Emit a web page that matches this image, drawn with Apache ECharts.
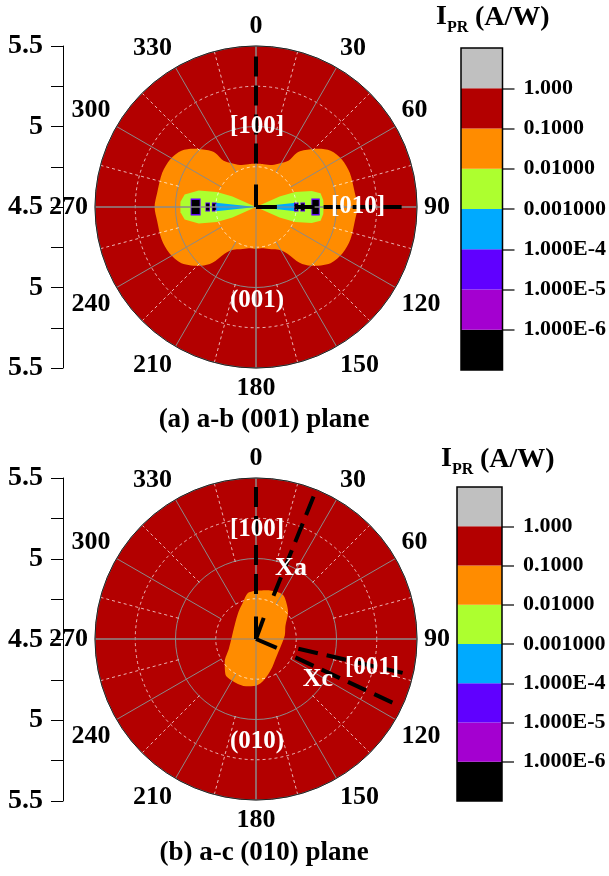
<!DOCTYPE html>
<html>
<head>
<meta charset="utf-8">
<script src="https://cdn.jsdelivr.net/npm/echarts@6/dist/echarts.min.js"></script>
<style>
  html, body { margin: 0; padding: 0; background: #fff; }
  #chart { width: 609px; height: 876px; }
</style>
</head>
<body>
<div id="chart"></div>
<script>
// radial scale of both polar plots (drawn as a straight axis on the left)
const radialTickValues = [-1, -0.5, 0, 0.5, 1];
const radialTickLabels = ["5.5", "5", "4.5", "5", "5.5"];

// colour scale of I_PR (A/W): one band per decade, lowest first
const bandTickValues = [1, 2, 3, 4, 5, 6, 7];
const bandLabels = ["1.000E-6", "1.000E-5", "1.000E-4", "0.001000", "0.01000", "0.1000", "1.000"];
const bandSpans = [1, 1, 1, 1, 1, 1, 1, 1];
const bandColors = ["#000000", "#a400d0", "#6000ff", "#00aaff", "#adff2f", "#ff8c00", "#b30000", "#c0c0c0"];

// 0.1-1 band fills the whole disc in both planes
const discAngle = [0, 15, 30, 45, 60, 75, 90, 105, 120, 135, 150, 165, 180, 195, 210, 225, 240, 255, 270, 285, 300, 315, 330, 345, 360];
const discR = [5.5, 5.5, 5.5, 5.5, 5.5, 5.5, 5.5, 5.5, 5.5, 5.5, 5.5, 5.5, 5.5, 5.5, 5.5, 5.5, 5.5, 5.5, 5.5, 5.5, 5.5, 5.5, 5.5, 5.5, 5.5];

// (a) a-b (001) plane: band boundaries, radius vs angle (deg)
const aOrangeAngle = [0, 10, 21, 29, 35, 37, 40, 47, 53, 61, 70, 82, 90, 98, 109, 118, 127, 137, 142, 146, 152, 160, 170, 180, 190, 200, 208, 214, 218, 223, 233, 242, 251, 262, 270, 278, 290, 299, 307, 313, 320, 323, 325, 331, 339, 350, 360];
const aOrangeR = [4.77, 4.77, 4.78, 4.81, 4.85, 4.92, 4.96, 5.03, 5.08, 5.11, 5.12, 5.12, 5.13, 5.12, 5.12, 5.11, 5.08, 5.00, 4.94, 4.85, 4.80, 4.78, 4.76, 4.76, 4.76, 4.78, 4.80, 4.85, 4.94, 5.00, 5.08, 5.11, 5.12, 5.12, 5.13, 5.12, 5.12, 5.11, 5.08, 5.03, 4.96, 4.92, 4.85, 4.81, 4.78, 4.77, 4.77];
const aGreenRightAngle = [64, 66, 69, 74, 78, 84, 90, 96, 102, 106, 111, 114, 116];
const aGreenRightR = [4.5, 4.66, 4.76, 4.86, 4.91, 4.92, 4.92, 4.92, 4.91, 4.86, 4.76, 4.66, 4.5];
const aGreenLeftAngle = [244, 246, 249, 254, 260, 266, 270, 274, 280, 286, 291, 294, 296];
const aGreenLeftR = [4.5, 4.66, 4.76, 4.87, 4.95, 4.97, 4.97, 4.97, 4.95, 4.87, 4.76, 4.66, 4.5];
const aBlueRightAngle = [83, 84, 87, 90, 93, 96, 97];
const aBlueRightR = [4.5, 4.75, 4.76, 4.77, 4.76, 4.75, 4.5];
const aBlueLeftAngle = [263, 264, 267, 270, 273, 276, 277];
const aBlueLeftR = [4.5, 4.75, 4.76, 4.77, 4.76, 4.75, 4.5];
// lowest bands: radial extent of the dark spots
const aCoreAngle = [90, 270];
const aCoreFrom = [4.85, 4.85];
const aCoreTo = [4.89, 4.90];
const aSpeckAngle = [90, 90, 270, 270];
const aSpeckFrom = [4.74, 4.78, 4.75, 4.79];
const aSpeckTo = [4.76, 4.80, 4.77, 4.81];
// crystal axes
const aSolidAngle = [0, 90];
const aSolidTo = [4.64, 4.63];
const aDashAngle = [0, 90];
const aDashFrom = [4.77, 4.74];
const aDashTo = [5.46, 5.46];

// (b) a-c (010) plane
const bOrangeAngle = [0, 12, 23, 32, 41, 50, 66, 83, 108, 133, 153, 169, 180, 192, 205, 221, 234, 250, 278, 305, 327, 340, 350, 360];
const bOrangeR = [4.80, 4.81, 4.82, 4.82, 4.79, 4.76, 4.70, 4.68, 4.66, 4.67, 4.71, 4.76, 4.79, 4.80, 4.80, 4.79, 4.74, 4.68, 4.65, 4.66, 4.70, 4.74, 4.79, 4.80];
const bSolidAngle = [0, 20, 113];
const bSolidTo = [4.64, 4.64, 4.64];
const bDashAngle = [0, 22, 103, 115];
const bDashFrom = [4.78, 4.79, 4.77, 4.77];
const bDashTo = [5.46, 5.46, 5.45, 5.46];

const FONT = "'Liberation Serif', 'Times New Roman', serif";
const GRID_GRAY = "#8a8a8a";
const GRID_DASH = "rgba(255,255,255,0.7)";
const centers = [[256, 207], [256, 639]];
const R = 161;

function pairs(rs, angles) {
  return rs.map((r, i) => [r, angles[i]]);
}

function band(polarIndex, rs, angles, color, smooth) {
  return {
    type: "line", coordinateSystem: "polar", polarIndex,
    data: pairs(rs, angles), smooth, symbol: "none",
    lineStyle: { width: 0 }, areaStyle: { color, opacity: 1 },
    z: 2, silent: true,
  };
}

function ray(polarIndex, angle, from, to, width, color, dash, z) {
  return {
    type: "line", coordinateSystem: "polar", polarIndex,
    data: [[from, angle], [to, angle]], symbol: "none",
    lineStyle: { color, width, type: dash || "solid", cap: "butt" },
    z: z || 6, silent: true,
  };
}

function text(str, x, y, size, color, align) {
  return {
    type: "text", x, y, z: 20, silent: true,
    style: {
      text: str, fill: color, font: "bold " + size + "px " + FONT,
      textAlign: align || "center", textVerticalAlign: "middle",
      align: align || "center", verticalAlign: "middle",
    },
  };
}

const polar = [];
const angleAxis = [];
const radiusAxis = [];
centers.forEach((c, p) => {
  const b = p * 3;
  polar.push({ center: c, radius: [0, R] }, { center: c, radius: [40, R] }, { center: c, radius: [80, R] });
  angleAxis.push(
    {
      polarIndex: b, type: "value", min: 0, max: 360, interval: 90, startAngle: 90, z: 5,
      axisLine: { lineStyle: { color: "#222", width: 1 } },
      axisTick: { show: false }, axisLabel: { show: false },
      splitLine: { show: true, lineStyle: { color: GRID_GRAY, width: 1 } },
    },
    {
      polarIndex: b + 1, type: "value", min: 0, max: 360, interval: 30, startAngle: 90, z: 4,
      axisLine: { show: false }, axisTick: { show: false },
      axisLabel: { margin: 7, color: "#000", fontSize: 26, fontWeight: "bold", fontFamily: FONT },
      splitLine: { show: true, lineStyle: { color: GRID_GRAY, width: 1 } },
    },
    {
      polarIndex: b + 2, type: "value", min: 0, max: 360, interval: 30, startAngle: 75, z: 4,
      axisLine: { show: false }, axisTick: { show: false }, axisLabel: { show: false },
      splitLine: { show: true, lineStyle: { color: GRID_DASH, width: 1, type: [3, 3] } },
    }
  );
  radiusAxis.push(
    {
      polarIndex: b, type: "value", min: 4.5, max: 5.5, interval: 0.5, z: 4,
      axisLine: { show: false }, axisTick: { show: false }, axisLabel: { show: false },
      splitLine: { show: true, lineStyle: { color: GRID_GRAY, width: 1 } },
      minorTick: { show: false, splitNumber: 2 },
      minorSplitLine: { show: true, lineStyle: { color: GRID_DASH, width: 1, type: [3, 3] } },
    },
    { polarIndex: b + 1, type: "value", min: 0, max: 1, show: false },
    { polarIndex: b + 2, type: "value", min: 0, max: 1, show: false }
  );
});

const series = [];

// panel (a)
series.push(band(0, discR, discAngle, bandColors[6], 0.5));
series.push(band(0, aOrangeR, aOrangeAngle, bandColors[5], 0.3));
series.push(band(0, aGreenRightR, aGreenRightAngle, bandColors[4], false));
series.push(band(0, aGreenLeftR, aGreenLeftAngle, bandColors[4], false));
series.push(band(0, aBlueRightR, aBlueRightAngle, bandColors[3], false));
series.push(band(0, aBlueLeftR, aBlueLeftAngle, bandColors[3], false));
aCoreAngle.forEach((a, i) => {
  series.push(ray(0, a, aCoreFrom[i] - 0.006, aCoreTo[i] + 0.006, 17, bandColors[2], null, 3));
  series.push(ray(0, a, aCoreFrom[i], aCoreTo[i], 14, bandColors[0], null, 3));
});
aSpeckAngle.forEach((a, i) => {
  series.push(ray(0, a, aSpeckFrom[i] - 0.004, aSpeckTo[i] + 0.004, 9, bandColors[2], null, 3));
  series.push(ray(0, a, aSpeckFrom[i], aSpeckTo[i], 7, bandColors[0], null, 3));
});
aSolidAngle.forEach((a, i) => series.push(ray(0, a, 4.5, aSolidTo[i], 4, "#000")));
aDashAngle.forEach((a, i) => series.push(ray(0, a, aDashFrom[i], aDashTo[i], 4, "#000", [20, 9])));

// panel (b)
series.push(band(3, discR, discAngle, bandColors[6], 0.5));
series.push(band(3, bOrangeR, bOrangeAngle, bandColors[5], 0.3));
bSolidAngle.forEach((a, i) => series.push(ray(3, a, 4.5, bSolidTo[i], 4, "#000")));
bDashAngle.forEach((a, i) => series.push(ray(3, a, bDashFrom[i], bDashTo[i], 4, "#000", [20, 9])));

// colour bars
[2, 3].forEach((g) => {
  bandSpans.forEach((v, i) => {
    series.push({
      type: "bar", xAxisIndex: g, yAxisIndex: g, stack: "cb" + g,
      data: [v], barWidth: "100%", itemStyle: { color: bandColors[i] }, silent: true,
    });
  });
});

function radialAxis(gridIndex) {
  return {
    gridIndex, type: "value", min: -1, max: 1, interval: 0.5, position: "left",
    axisLine: { show: true, onZero: false, lineStyle: { color: "#000", width: 1 } },
    axisTick: { show: true, length: 12, lineStyle: { color: "#000" } },
    minorTick: { show: true, splitNumber: 2, length: 12, lineStyle: { color: "#000" } },
    axisLabel: {
      margin: 20, color: "#000", fontSize: 28, fontWeight: "bold", fontFamily: FONT,
      formatter: (v) => {
        const i = radialTickValues.findIndex((t) => Math.abs(t - v) < 1e-6);
        return i < 0 ? "" : radialTickLabels[i];
      },
    },
    splitLine: { show: false },
  };
}

function barAxis(gridIndex) {
  return {
    gridIndex, type: "value", min: 0, max: 8, interval: 1, position: "right",
    axisLine: { show: false },
    axisTick: { show: true, customValues: bandTickValues, length: 12, lineStyle: { color: "#333", width: 1.5 } },
    axisLabel: {
      customValues: bandTickValues, margin: 21, color: "#000", fontSize: 22, fontWeight: "bold", fontFamily: FONT,
      formatter: (v) => bandLabels[Math.round(v) - 1] || "",
    },
    splitLine: { show: false },
  };
}

const chart = echarts.init(document.getElementById("chart"));
chart.setOption({
  backgroundColor: "#fff",
  animation: false,
  polar,
  angleAxis,
  radiusAxis,
  grid: [
    { left: 63, top: 46, width: 1, height: 322 },
    { left: 63, top: 478, width: 1, height: 323 },
    { left: 461, top: 48, width: 44, height: 322, show: true, borderColor: "#000", borderWidth: 1.5, z: 10 },
    { left: 457, top: 487, width: 45, height: 314, show: true, borderColor: "#000", borderWidth: 1.5, z: 10 },
  ],
  xAxis: [
    { gridIndex: 0, type: "value", min: 0, max: 1, show: false },
    { gridIndex: 1, type: "value", min: 0, max: 1, show: false },
    { gridIndex: 2, type: "category", data: ["I"], show: false },
    { gridIndex: 3, type: "category", data: ["I"], show: false },
  ],
  yAxis: [radialAxis(0), radialAxis(1), barAxis(2), barAxis(3)],
  series,
  graphic: [
    text("(a) a-b (001) plane", 264, 420, 27, "#000"),
    text("(b) a-c (010) plane", 264, 853, 27, "#000"),
    text("I", 436, 17, 28, "#000", "left"),
    text("PR", 447, 28, 16, "#000", "left"),
    text("(A/W)", 475, 18, 28, "#000", "left"),
    text("I", 441, 459, 28, "#000", "left"),
    text("PR", 452, 470, 16, "#000", "left"),
    text("(A/W)", 480, 460, 28, "#000", "left"),
    text("[100]", 257, 127, 25, "#fff"),
    text("[010]", 358, 207, 25, "#fff"),
    text("(001)", 257, 301, 25, "#fff"),
    text("[100]", 257, 530, 25, "#fff"),
    text("Xa", 291, 568, 26, "#fff"),
    text("[001]", 372, 668, 25, "#fff"),
    text("Xc", 318, 679, 26, "#fff"),
    text("(010)", 257, 742, 25, "#fff"),
  ],
});
</script>
</body>
</html>
